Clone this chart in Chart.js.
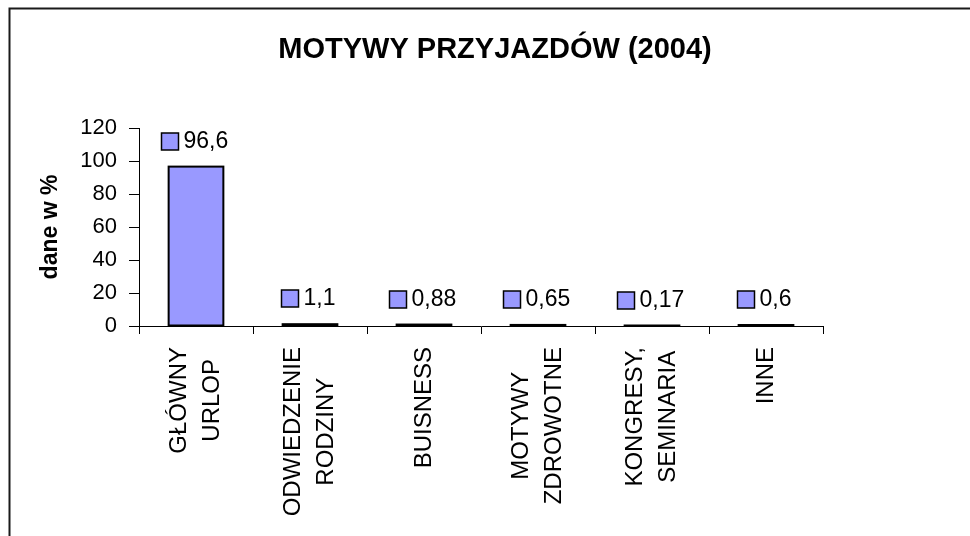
<!DOCTYPE html>
<html>
<head>
<meta charset="utf-8">
<script src="https://cdn.jsdelivr.net/npm/chart.js@4.4.0/dist/chart.umd.min.js"></script>
<style>
  html, body { margin: 0; padding: 0; background: #fff; }
</style>
</head>
<body>
<canvas id="chart" width="970" height="536"></canvas>
<script>
"use strict"

// DATA
const chartTitle = 'MOTYWY PRZYJAZDÓW (2004)';
const axisTitle = 'dane w %';
const categories = [
  ['GŁÓWNY', 'URLOP'],
  ['ODWIEDZENIE', 'RODZINY'],
  ['BUISNESS'],
  ['MOTYWY', 'ZDROWOTNE'],
  ['KONGRESY,', 'SEMINARIA'],
  ['INNE']
];
const values = [96.6, 1.1, 0.88, 0.65, 0.17, 0.6];
const yTicks = [0, 20, 40, 60, 80, 100, 120];

const FONT = '"Liberation Sans", Arial, sans-serif';
const BAR_COLOR = '#9999FF';

Chart.defaults.font.family = FONT;
Chart.defaults.color = '#000';

// frame + title, drawn behind everything
const frameAndTitle = {
  id: 'frameAndTitle',
  beforeDraw(chart) {
    const ctx = chart.ctx;
    ctx.save();
    ctx.fillStyle = '#fff';
    ctx.fillRect(0, 0, chart.width, chart.height);
    ctx.strokeStyle = '#1a1a1a';
    ctx.lineWidth = 2;
    ctx.beginPath();
    ctx.moveTo(9.5, chart.height);
    ctx.lineTo(9.5, 8.5);
    ctx.lineTo(chart.width, 8.5);
    ctx.stroke();
    ctx.font = 'bold 29px ' + FONT;
    ctx.textAlign = 'center';
    ctx.textBaseline = 'middle';
    ctx.fillStyle = '#000';
    ctx.fillText(chartTitle, 495, 50);
    ctx.restore();
  }
};

// rotated category labels, lines centred on each other
const categoryLabels = {
  id: 'categoryLabels',
  afterDraw(chart) {
    const x = chart.scales.x;
    const ctx = chart.ctx;
    ctx.save();
    ctx.font = '24px ' + FONT;
    ctx.fillStyle = '#000';
    ctx.textAlign = 'center';
    ctx.textBaseline = 'middle';
    categories.forEach((lines, i) => {
      const cx = x.getPixelForTick(i);
      const maxW = Math.max(...lines.map(l => ctx.measureText(l).width));
      ctx.save();
      ctx.translate(cx, x.top + 21 + maxW / 2);
      ctx.rotate(-Math.PI / 2);
      lines.forEach((l, j) => {
        ctx.fillText(l, 0, (j - (lines.length - 1) / 2) * 33);
      });
      ctx.restore();
    });
    ctx.restore();
  }
};

// excel-like bar outlines (stroke centred on the edge, so thin bars read as black lines)
// plus value labels with legend key
const valueTags = {
  id: 'valueTags',
  afterDatasetsDraw(chart) {
    const ctx = chart.ctx;
    const meta = chart.getDatasetMeta(0);
    ctx.save();
    ctx.strokeStyle = '#000';
    ctx.lineWidth = 2;
    meta.data.forEach(bar => {
      const { x, y, base, width } = bar.getProps(['x', 'y', 'base', 'width'], true);
      ctx.strokeRect(x - width / 2, y, width, base - y);
    });
    ctx.font = '23px ' + FONT;
    meta.data.forEach((bar, i) => {
      const txt = String(values[i]).replace('.', ',');
      const w = ctx.measureText(txt).width;
      const total = 17 + 5 + w;
      const left = Math.round(bar.x - total / 2 - 2) + 0.5;
      const cy = Math.round(bar.y - 26);
      ctx.fillStyle = BAR_COLOR;
      ctx.fillRect(left, cy - 8, 17, 17);
      ctx.lineWidth = 1.5;
      ctx.strokeRect(left, cy - 8, 17, 17);
      ctx.fillStyle = '#000';
      ctx.textAlign = 'left';
      ctx.textBaseline = 'middle';
      ctx.fillText(txt, left + 22, cy + 1);
    });
    ctx.restore();
  }
};

const data = {
  labels: categories,
  datasets: [{
    data: values,
    backgroundColor: BAR_COLOR,
    borderWidth: 0,
    inflateAmount: 0,
    categoryPercentage: 1,
    barPercentage: 0.48
  }]
};

const config = {
  type: 'bar',
  data,
  options: {
    responsive: false,
    animation: false,
    layout: { padding: { left: 10, top: 128, right: 147, bottom: 0 } },
    plugins: {
      legend: { display: false },
      tooltip: { enabled: false },
      title: { display: false }
    },
    scales: {
      x: {
        offset: true,
        grid: { drawOnChartArea: false, drawTicks: true, tickLength: 8, color: '#000', offset: true },
        border: { display: true, color: '#000', width: 1 },
        ticks: { display: false },
        afterFit: s => { s.height = 210; }
      },
      y: {
        min: 0,
        max: 120,
        afterBuildTicks: s => { s.ticks = yTicks.map(v => ({ value: v })); },
        ticks: { padding: 12, color: '#000', font: { size: 22 } },
        grid: { drawOnChartArea: false, tickLength: 10, color: '#000' },
        border: { display: true, color: '#000', width: 1 },
        title: {
          display: true,
          text: axisTitle,
          color: '#000',
          font: { size: 23, weight: 'bold' },
          padding: { top: 27, bottom: 0 }
        },
        afterFit: s => { s.width = 129; }
      }
    }
  },
  plugins: [frameAndTitle, valueTags, categoryLabels]
};

const barChart = new Chart(document.getElementById('chart'), config);
</script>
</body>
</html>
